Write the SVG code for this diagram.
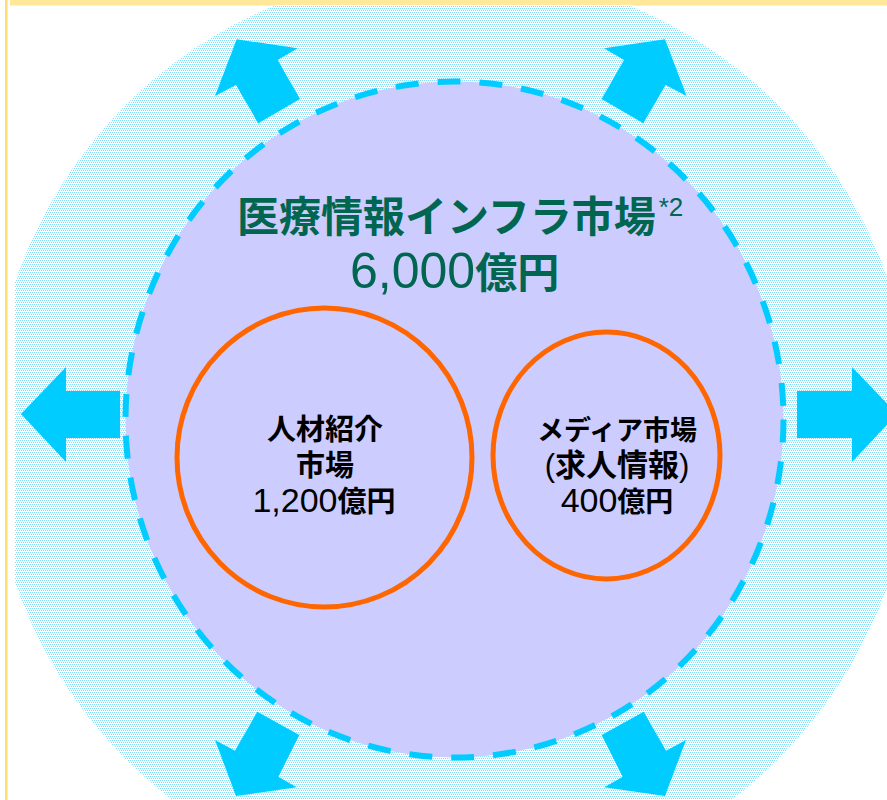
<svg xmlns="http://www.w3.org/2000/svg" width="887" height="800" viewBox="0 0 887 800">
  <defs>
    <pattern id="dots" width="4" height="4" patternUnits="userSpaceOnUse">
      <rect width="4" height="4" fill="#ffffff"/>
      <rect x="0" y="0" width="1" height="1" fill="#7FDFFF"/>
      <rect x="2" y="0" width="1" height="1" fill="#7FDFFF"/>
      <rect x="1" y="2" width="1" height="1" fill="#7FDFFF"/>
      <rect x="3" y="2" width="1" height="1" fill="#7FDFFF"/>
    </pattern>
    <clipPath id="frameClip">
      <rect x="15" y="5" width="872" height="795"/>
    </clipPath>
    <style>
      .arrow { fill: #00CCFF; stroke: none; }
      .ring { fill: none; stroke: #FF6600; stroke-width: 5; }
      .cjk { font-family: "Noto Sans CJK JP", "Noto Sans CJK SC", sans-serif; font-weight: bold; }
      .lat { font-family: "Liberation Sans", Arial, sans-serif; font-weight: normal; }
      .title { fill: #006650; }
      .label { fill: #000000; text-anchor: middle; }
    </style>
  </defs>

  <rect width="887" height="800" fill="#ffffff"/>

  <g id="frame">
    <rect x="10" y="0" width="877" height="5.5" fill="#FFE89A"/>
    <rect x="5" y="0" width="2.5" height="800" fill="#FFDD70"/>
  </g>

  <g id="background" clip-path="url(#frameClip)">
    <circle cx="452" cy="432" r="462" fill="url(#dots)"/>
  </g>

  <g id="arrows">
    <polygon class="arrow" points="21,414 66,367 66,391 120,391 120,438 66,438 66,462"/>
    <polygon class="arrow" points="897,414 852,367 852,391 797,391 797,438 852,438 852,462"/>
    <polygon class="arrow" points="236.7,39.3 297.7,48.3 277.7,60 300,99 258.3,123.3 236,85 215,96"/>
    <polygon class="arrow" points="665,39.3 604,48.3 624,60 601.6,99 643.3,123.3 665.6,85 686.6,96"/>
    <polygon class="arrow" points="236,796 215,740 235,750.7 257.3,711.7 299.3,735 278.3,776.7 296.7,787.3"/>
    <polygon class="arrow" points="665,796 686,740 666,750.7 643.7,711.7 601.7,735 622.7,776.7 604.3,787.3"/>
  </g>

  <g id="medical-info-market">
    <ellipse cx="454.5" cy="419.5" rx="329" ry="338" fill="#CCCCFF" stroke="#00CCFF" stroke-width="6" stroke-dasharray="23 19"/>
    <text x="237" y="232" class="cjk title" font-size="42">医療情報インフラ市場<tspan class="lat" font-size="26" dx="3" dy="-16">*2</tspan></text>
    <text x="350" y="288" class="title"><tspan class="lat" font-size="50">6,000</tspan><tspan class="cjk" font-size="42">億円</tspan></text>
  </g>

  <g id="recruitment-market">
    <ellipse class="ring" cx="324.5" cy="457.5" rx="147.5" ry="149.5"/>
    <text x="325" y="440" class="cjk label" font-size="29">人材紹介</text>
    <text x="325" y="476" class="cjk label" font-size="29">市場</text>
    <text x="324" y="512" class="label"><tspan class="lat" font-size="34">1,200</tspan><tspan class="cjk" font-size="29">億円</tspan></text>
  </g>

  <g id="media-market">
    <ellipse class="ring" cx="606.5" cy="455.5" rx="113.5" ry="123.5"/>
    <text x="617" y="440" class="cjk label" font-size="27">メディア市場</text>
    <text x="617" y="476" class="label"><tspan class="lat" font-size="31">(</tspan><tspan class="cjk" font-size="31">求人情報</tspan><tspan class="lat" font-size="31">)</tspan></text>
    <text x="617" y="512" class="label"><tspan class="lat" font-size="34">400</tspan><tspan class="cjk" font-size="28">億円</tspan></text>
  </g>
</svg>
